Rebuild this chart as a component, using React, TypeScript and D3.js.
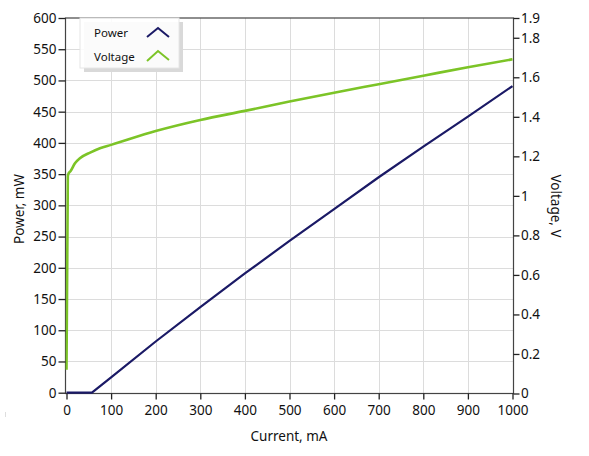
import React, { useEffect, useRef } from 'react';
import * as d3 from 'd3';

// Power curve (mW) vs current (mA)
const powerCurrent = [0, 57, 100, 200, 300, 400, 500, 600, 700, 800, 900, 1000];
const powerValues = [0, 0, 24.5, 82, 137, 191, 243, 294, 345, 394, 442, 491];

// Voltage curve (V) vs current (mA)
const voltageCurrent = [0, 3, 5, 8, 19, 30, 53, 75, 100, 200, 300, 400, 500, 600, 700, 800, 900, 1000];
const voltageValues = [0.12, 1.1, 1.115, 1.122, 1.165, 1.19, 1.219, 1.241, 1.258, 1.328, 1.384, 1.43, 1.477, 1.522, 1.565, 1.608, 1.651, 1.691];

const currentTicks = [0, 100, 200, 300, 400, 500, 600, 700, 800, 900, 1000];
const powerTicks = [0, 50, 100, 150, 200, 250, 300, 350, 400, 450, 500, 550, 600];
const voltageTicks = [0, 0.2, 0.4, 0.6, 0.8, 1, 1.2, 1.4, 1.6, 1.8, 1.9];

const seriesNames = ['Power', 'Voltage'];
const seriesColors = ['#1b1a66', '#7cc427'];

export default function App() {
    const svgRef = useRef<SVGSVGElement>(null);

    useEffect(() => {
        if (!svgRef.current) return;

        const width = 589;
        const height = 456;
        const font = '"Noto Sans", "Open Sans", sans-serif';
        const fontSize = '13.5px';
        const plot = { left: 65.5, right: 513.5, top: 18, bottom: 393.5 };

        const svg = d3.select(svgRef.current)
            .attr('width', width)
            .attr('height', height)
            .style('background', '#fff');

        svg.selectAll('*').remove();

        const x = d3.scaleLinear().domain([0, 1000]).range([66.5, 512.5]);
        const yP = d3.scaleLinear().domain([0, 600]).range([plot.bottom - 0.8, plot.top]);
        const yV = d3.scaleLinear().domain([0, 1.9]).range([plot.bottom, plot.top]);

        svg.append('clipPath').attr('id', 'plot-clip')
            .append('rect')
            .attr('x', plot.left).attr('y', plot.top)
            .attr('width', plot.right - plot.left).attr('height', plot.bottom - plot.top + 2);

        // Grid
        const grid = svg.append('g').attr('stroke', '#dcdcdc').attr('stroke-width', 1);
        grid.selectAll('line.v')
            .data(currentTicks.slice(1, -1))
            .enter().append('line')
            .attr('x1', d => Math.round(x(d)) + 0.5).attr('x2', d => Math.round(x(d)) + 0.5)
            .attr('y1', plot.top).attr('y2', plot.bottom);
        grid.selectAll('line.h')
            .data(powerTicks.slice(1, -1))
            .enter().append('line')
            .attr('x1', plot.left).attr('x2', plot.right)
            .attr('y1', d => Math.round(yP(d)) + 0.5).attr('y2', d => Math.round(yP(d)) + 0.5);

        // Frame
        svg.append('rect')
            .attr('x', plot.left).attr('y', plot.top)
            .attr('width', plot.right - plot.left).attr('height', plot.bottom - plot.top)
            .attr('fill', 'none').attr('stroke', '#444').attr('stroke-width', 1.2);

        // Lines
        const powerPts: [number, number][] = powerCurrent.map((c, i) => [c, powerValues[i]]);
        const voltagePts: [number, number][] = voltageCurrent.map((c, i) => [c, voltageValues[i]]);

        const lines = svg.append('g').attr('clip-path', 'url(#plot-clip)');
        lines.append('path')
            .attr('d', d3.line<[number, number]>().x(d => x(d[0])).y(d => yP(d[1]))(powerPts))
            .attr('fill', 'none').attr('stroke', seriesColors[0]).attr('stroke-width', 2.2);
        lines.append('path')
            .attr('d', d3.line<[number, number]>().x(d => x(d[0])).y(d => yV(d[1])).curve(d3.curveMonotoneX)(voltagePts))
            .attr('fill', 'none').attr('stroke', seriesColors[1]).attr('stroke-width', 2.6);

        const styleAxis = (g: d3.Selection<SVGGElement, unknown, null, undefined>) => {
            g.select('.domain').remove();
            g.selectAll('line').attr('stroke', '#222').attr('stroke-width', 1.3);
            g.selectAll('text').attr('fill', '#111').attr('font-size', fontSize).attr('font-family', font);
            g.attr('font-size', null).attr('font-family', null);
        };

        svg.append('g')
            .attr('transform', `translate(${plot.left},0)`)
            .call(d3.axisLeft(yP).tickValues(powerTicks).tickSize(7).tickPadding(2).tickFormat(d3.format('d')))
            .call(styleAxis);

        svg.append('g')
            .attr('transform', `translate(${plot.right},0)`)
            .call(d3.axisRight(yV).tickValues(voltageTicks).tickSize(6).tickPadding(1.5).tickFormat(d => String(+(+d).toFixed(1))))
            .call(styleAxis);

        svg.append('g')
            .attr('transform', `translate(0,${plot.bottom})`)
            .call(d3.axisBottom(x).tickValues(currentTicks).tickSize(6).tickPadding(6).tickFormat(d3.format('d')))
            .call(styleAxis);

        // Axis titles
        svg.append('text')
            .attr('x', 289).attr('y', 441)
            .attr('text-anchor', 'middle')
            .attr('font-family', font).attr('font-size', fontSize).attr('fill', '#111')
            .text('Current, mA');
        svg.append('text')
            .attr('transform', 'translate(24,209) rotate(-90)')
            .attr('text-anchor', 'middle')
            .attr('font-family', font).attr('font-size', fontSize).attr('fill', '#111')
            .text('Power, mW');
        svg.append('text')
            .attr('transform', 'translate(551,206) rotate(90)')
            .attr('text-anchor', 'middle')
            .attr('font-family', font).attr('font-size', fontSize).attr('fill', '#111')
            .text('Voltage, V');

        // Legend
        const legend = svg.append('g');
        legend.append('rect')
            .attr('x', 84).attr('y', 22).attr('width', 99).attr('height', 50)
            .attr('fill', '#d9d9d9');
        legend.append('rect')
            .attr('x', 80).attr('y', 18).attr('width', 99).attr('height', 50)
            .attr('fill', '#fff').attr('fill-opacity', 0.88)
            .attr('stroke', '#e6e6e6').attr('stroke-width', 1);

        const chevrons = [
            [[147, 37], [158, 28], [169, 37]],
            [[147, 61], [158, 51], [169, 60]],
        ];
        seriesNames.forEach((name, i) => {
            legend.append('text')
                .attr('x', 94).attr('y', 37 + i * 24)
                .attr('font-family', font).attr('font-size', '11.5px').attr('fill', '#111')
                .text(name);
            legend.append('path')
                .attr('d', d3.line()(chevrons[i] as [number, number][]))
                .attr('fill', 'none').attr('stroke', seriesColors[i]).attr('stroke-width', 2);
        });

        // faint artifact mark near the lower left
        svg.append('line')
            .attr('x1', 5.5).attr('x2', 5.5).attr('y1', 412).attr('y2', 417)
            .attr('stroke', '#dedede').attr('stroke-width', 1);
    }, []);

    return (
        <div style={{ position: 'absolute', left: 0, top: 0 }}>
            <svg ref={svgRef} style={{ display: 'block' }}></svg>
        </div>
    );
}
